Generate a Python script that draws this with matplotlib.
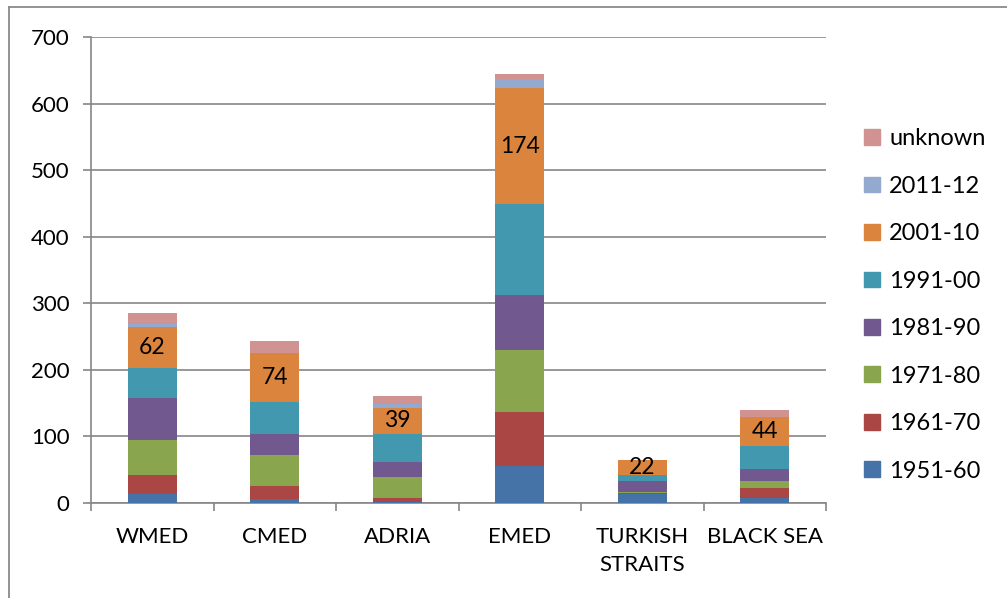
import numpy as np
import matplotlib
matplotlib.use("Agg")
import matplotlib.pyplot as plt
from matplotlib.lines import Line2D

plt.rcParams['font.family'] = ['Lato', 'DejaVu Sans']

regions = ["WMED", "CMED", "ADRIA", "EMED", "TURKISH\nSTRAITS", "BLACK SEA"]
periods = ["1951-60", "1961-70", "1971-80", "1981-90", "1991-00", "2001-10", "2011-12", "unknown"]

# counts per period, one list per period (same order as regions)
p1951 = [13, 6, 1, 55, 14, 7]
p1961 = [29, 20, 7, 82, 1, 15]
p1971 = [52, 46, 31, 93, 1, 11]
p1981 = [64, 31, 22, 83, 17, 18]
p1991 = [45, 48, 43, 136, 9, 34]
p2001 = [62, 74, 39, 174, 22, 44]
p2011 = [4, 1, 6, 14, 0, 0]
punknown = [17, 17, 12, 8, 0, 10]

series = [p1951, p1961, p1971, p1981, p1991, p2001, p2011, punknown]
colors = ["#4572A7", "#AA4643", "#89A54E", "#71588F", "#4198AF", "#DB843D", "#93A9CF", "#D19392"]

fig = plt.figure(figsize=(10.07, 5.98), dpi=100)
ax = fig.add_axes([0.0904, 0.1589, 0.7299, 0.7792])

x = np.arange(len(regions))
bottom = np.zeros(len(regions))
for vals, col, lab in zip(series, colors, periods):
    ax.bar(x, vals, 0.4, bottom=bottom, color=col, label=lab, zorder=3)
    bottom += np.array(vals)

# label the 2001-10 segment with its value
b2001 = np.array(series[:5]).sum(axis=0)
for xi, base, v in zip(x, b2001, p2001):
    ax.text(xi, base + v / 2, str(v), ha="center", va="center", fontsize=16.5, zorder=4)

grid_col = "#868686"
ax.set_xlim(-0.5, len(regions) - 0.5)
ax.set_ylim(0, 700)
ax.set_yticks(range(0, 701, 100))
ax.yaxis.grid(True, color=grid_col, lw=1.2, zorder=0)
ax.set_axisbelow(True)

for s in ["top", "right"]:
    ax.spines[s].set_visible(False)
for s in ["left", "bottom"]:
    ax.spines[s].set_color(grid_col)
    ax.spines[s].set_linewidth(1.2)

ax.set_xticks(x)
ax.set_xticklabels(regions, fontsize=16, linespacing=1.5, va="top")
ax.set_xticks(np.arange(-0.5, len(regions)), minor=True)
ax.tick_params(axis="x", which="major", length=0, pad=17)
ax.tick_params(axis="x", which="minor", length=5.5, width=1.2, color=grid_col, direction="out")
ax.tick_params(axis="y", length=5.5, width=1.2, color=grid_col, labelsize=16, pad=10)

handles = [plt.Rectangle((0, 0), 1, 1, color=c) for c in colors]
fig.legend(handles[::-1], periods[::-1], loc="center left",
           bbox_to_anchor=(0.849, 0.490), frameon=False, fontsize=17,
           handlelength=0.65, handleheight=0.65, handletextpad=0.4,
           labelspacing=1.12, borderaxespad=0)

# outer chart frame (top and left edges)
fig.add_artist(Line2D([0.009, 1.0], [0.988, 0.988], transform=fig.transFigure,
                      color="#8a8a8a", lw=1.3))
fig.add_artist(Line2D([0.009, 0.009], [0.0, 0.988], transform=fig.transFigure,
                      color="#8a8a8a", lw=1.3))

fig.savefig("out.png", dpi=100)
